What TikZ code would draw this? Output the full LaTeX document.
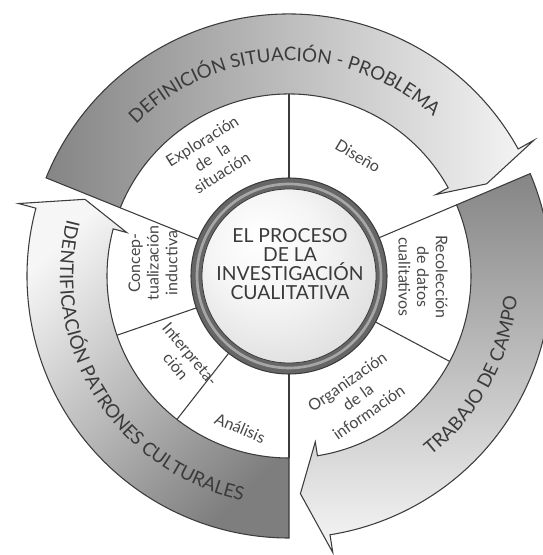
\documentclass[tikz,border=0pt]{standalone}
\usepackage{fontspec}
\setmainfont{Lato}
\usepackage{tikz}
\usetikzlibrary{decorations.text}

\definecolor{inkgray}{HTML}{3A3A3A}
\definecolor{segtext}{HTML}{474747}
\definecolor{edgegray}{HTML}{3C3C3C}
\definecolor{banddark}{HTML}{858585}
\definecolor{bandlight}{HTML}{F6F6F6}
\definecolor{ringgray}{HTML}{666666}

\pgfdeclareradialshading{discshade}{\pgfpoint{-10bp}{12bp}}{color(0bp)=(white); color(16bp)=(white!96!black); color(50bp)=(white!78!black)}

\newcommand{\rin}{182}
\newcommand{\rout}{262}
\newcommand{\rbarbin}{168}
\newcommand{\rbarbout}{280}
\newcommand{\rtip}{218}

% band arrow: shading, tail angle, end of body, tip angle
\newcommand{\cyclearrow}[4]{%
\draw[band,#1] (#2:\rin) arc[start angle=#2,end angle=#3,radius=\rin] -- (#3:\rbarbin) -- (#4:\rtip) -- (#3:\rbarbout) -- (#3:\rout) arc[start angle=#3,end angle=#2,radius=\rout] -- cycle;}

\begin{document}
\begin{tikzpicture}[x=0.75pt,y=0.75pt,
  band/.style={draw=edgegray,line width=0.8pt,line join=miter},
  divider/.style={draw=edgegray,line width=0.8pt},
  segment/.style={text=segtext,align=center,inner sep=0pt,font=\fontsize{12}{14}\selectfont},
  bandtext/.style={decorate,decoration={text along path,text align=center,text color=inkgray,text={|\fontsize{14}{16}\selectfont|#1}}}]

\useasboundingbox (-289,-279) rectangle (253,276);

\foreach \a in {90,23,-28,-90,232,199,158}
  \draw[divider] (\a:98) -- (\a:\rin);

\cyclearrow{left color=banddark,right color=bandlight}{158}{29}{25}

\cyclearrow{top color=banddark,bottom color=bandlight}{23}{-81}{-87}

\cyclearrow{top color=bandlight,bottom color=banddark!95!black,shading angle=45}{270}{165}{159.4}

\fill[ringgray] (0,0) circle (98);
\draw[gray!70,line width=2pt] (0,0) circle (92);
\draw[edgegray,line width=0.8pt] (0,0) circle (98);
\shade[shading=discshade] (0,0) circle (87);
\draw[edgegray,line width=0.6pt] (0,0) circle (87);

\node[text=inkgray,align=center,font=\fontsize{14.5}{14.3}\selectfont] (centro) at (1,12) {EL PROCESO\\DE LA\\INVESTIGACIÓN\\CUALITATIVA};

\node[segment,rotate=32] (explora) at (-77,119) {Exploración\\de\hspace{7pt}la\\situación};

\node[segment,rotate=-31] (diseno) at (69,120) {Diseño};

\node[segment,rotate=-90] (recolecta) at (134,-1) {Recolección\\de datos\\cualitativos};

\node[segment,rotate=35] (organiza) at (69,-121) {Organización\\de la\\información};

\node[segment,rotate=-23] (analisis) at (-49,-152) {Análisis};

\node[segment,rotate=-50] (interpreta) at (-106,-84) {Interpreta-\\ción};

\node[segment,rotate=90] (concepto) at (-136,13) {Concep-\\tualización\\inductiva};

\path[bandtext={DEFINICIÓN SITUACIÓN - PROBLEMA}] (150:215) arc[start angle=150,end angle=33,radius=215];

\path[bandtext={TRABAJO DE CAMPO}] (-70:229) arc[start angle=-70,end angle=13,radius=229];

\path[bandtext={IDENTIFICACIÓN PATRONES CULTURALES}] (160:229) arc[start angle=160,end angle=264,radius=229];

\end{tikzpicture}
\end{document}
